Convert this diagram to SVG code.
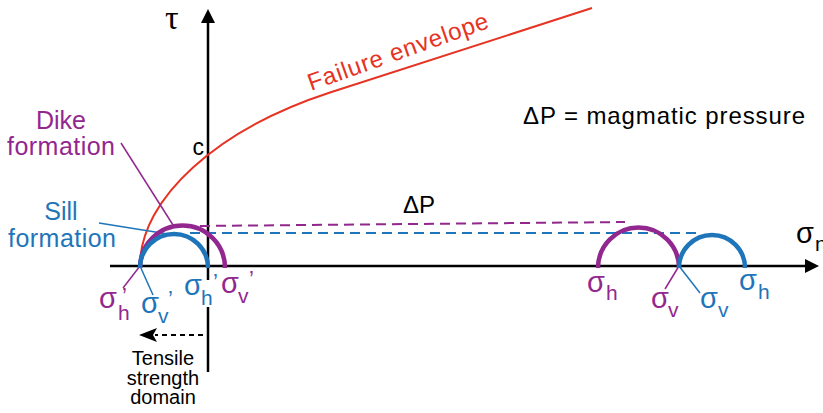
<svg xmlns="http://www.w3.org/2000/svg" width="823" height="413" viewBox="0 0 823 413">
<style>
text{font-family:"Liberation Sans",Arial,sans-serif;}
.k{fill:#000}
.pu{fill:#92278f}
.bl{fill:#1f75b9}
.sg{font-size:29px}
.sb{font-size:21px}
.pr{font-size:22px}
.lbl{font-size:25px}
.ax{stroke:#000;stroke-width:2.5;fill:none}
.arcP{stroke:#92278f;stroke-width:4.5;fill:none}
.arcB{stroke:#1f75b9;stroke-width:4.5;fill:none}
.ldP{stroke:#92278f;stroke-width:1.5;fill:none}
.ldB{stroke:#1f75b9;stroke-width:1.5;fill:none}
</style>
<rect width="823" height="413" fill="#fff"/>

<g id="axes">
  <line class="ax" x1="110" y1="266" x2="807" y2="266"/>
  <polygon points="819,266 805,259 805,273" fill="#000"/>
  <line class="ax" x1="208" y1="20" x2="208" y2="280"/>
  <line class="ax" x1="208" y1="307" x2="208" y2="372"/>
  <polygon points="208,9 201,23 215,23" fill="#000"/>
  <text x="165" y="29" style="font-family:'Liberation Serif',serif;font-size:34px" class="k">τ</text>
  <text x="204" y="155" text-anchor="end" style="font-size:23px" class="k">c</text>
  <text x="796" y="243" class="k sg">σ</text>
  <text x="815" y="251" class="k sb">n</text>
</g>

<g id="connectors">
  <path id="envelope" d="M140,266 C140,198 218,129 330,92.5 L592,8" fill="none" stroke="#e63323" stroke-width="2"/>
  <line x1="200" y1="226" x2="625" y2="222" stroke="#92278f" stroke-width="2" stroke-dasharray="10,6"/>
  <line x1="190" y1="233" x2="697" y2="233" stroke="#1f75b9" stroke-width="2" stroke-dasharray="10,6"/>
  <line class="ldP" x1="121" y1="143" x2="173" y2="225"/>
  <line class="ldB" x1="99" y1="223" x2="174" y2="235"/>
  <line class="ldP" x1="140" y1="266" x2="123" y2="288"/>
  <line class="ldB" x1="140" y1="266" x2="153" y2="295"/>
  <line class="ldP" x1="679" y1="266" x2="665" y2="289"/>
  <line class="ldB" x1="679" y1="266" x2="700" y2="293"/>
  <line x1="203" y1="335" x2="155" y2="335" stroke="#000" stroke-width="2" stroke-dasharray="5,4"/>
  <polygon points="139,335 157,328 153,335 157,342" fill="#000"/>
</g>

<g id="circles">
  <path class="arcP" d="M140,268 A42.5,42.5 0 0 1 225,268"/>
  <path class="arcB" d="M140,268 A34,34 0 0 1 208,268"/>
  <path class="arcP" d="M598,268 A40.5,40.5 0 0 1 679,268"/>
  <path class="arcB" d="M679,268 A33,33 0 0 1 745,268"/>
</g>

<g id="envelope-label">
  <text x="311" y="91" transform="rotate(-19.5 311 91)" style="font-size:24px" fill="#e63323" textLength="190" lengthAdjust="spacing">Failure envelope</text>
</g>

<g id="legend">
  <text x="523" y="124" class="k" style="font-size:24px" textLength="282" lengthAdjust="spacing">ΔP = magmatic pressure</text>
</g>

<g id="dp-label">
  <text x="403" y="213" class="k" style="font-size:24px">ΔP</text>
</g>

<g id="dike-label">
  <text x="61" y="129" text-anchor="middle" class="pu lbl">Dike</text>
  <text x="61" y="155" text-anchor="middle" class="pu lbl" textLength="108" lengthAdjust="spacing">formation</text>
</g>

<g id="sill-label">
  <text x="61" y="220" text-anchor="middle" class="bl lbl">Sill</text>
  <text x="62" y="247" text-anchor="middle" class="bl lbl" textLength="108" lengthAdjust="spacing">formation</text>
</g>

<g id="left-stress-labels">
  <text x="99" y="308" class="pu sg">σ</text>
  <text x="118" y="320" class="pu sb">h</text>
  <text x="122" y="303" class="pu pr">’</text>

  <text x="141" y="313" class="bl sg">σ</text>
  <text x="158" y="323" class="bl sb">v</text>
  <text x="168" y="306" class="bl pr">’</text>

  <text x="184" y="295" class="bl sg">σ</text>
  <text x="201" y="305" class="bl sb">h</text>
  <text x="213" y="289" class="bl pr">’</text>

  <text x="221" y="293" class="pu sg">σ</text>
  <text x="238" y="303" class="pu sb">v</text>
  <text x="249" y="286" class="pu pr">’</text>
</g>

<g id="right-stress-labels">
  <text x="587" y="292" class="pu sg">σ</text>
  <text x="606" y="300" class="pu sb">h</text>
  <text x="651" y="308" class="pu sg">σ</text>
  <text x="668" y="317" class="pu sb">v</text>
  <text x="700" y="308" class="bl sg">σ</text>
  <text x="718" y="317" class="bl sb">v</text>
  <text x="739" y="290" class="bl sg">σ</text>
  <text x="758" y="299" class="bl sb">h</text>
</g>

<g id="tensile-label">
  <text x="163" y="365" text-anchor="middle" class="k" style="font-size:20px">Tensile</text>
  <text x="163" y="385" text-anchor="middle" class="k" style="font-size:20px">strength</text>
  <text x="163" y="404" text-anchor="middle" class="k" style="font-size:20px">domain</text>
</g>
</svg>
